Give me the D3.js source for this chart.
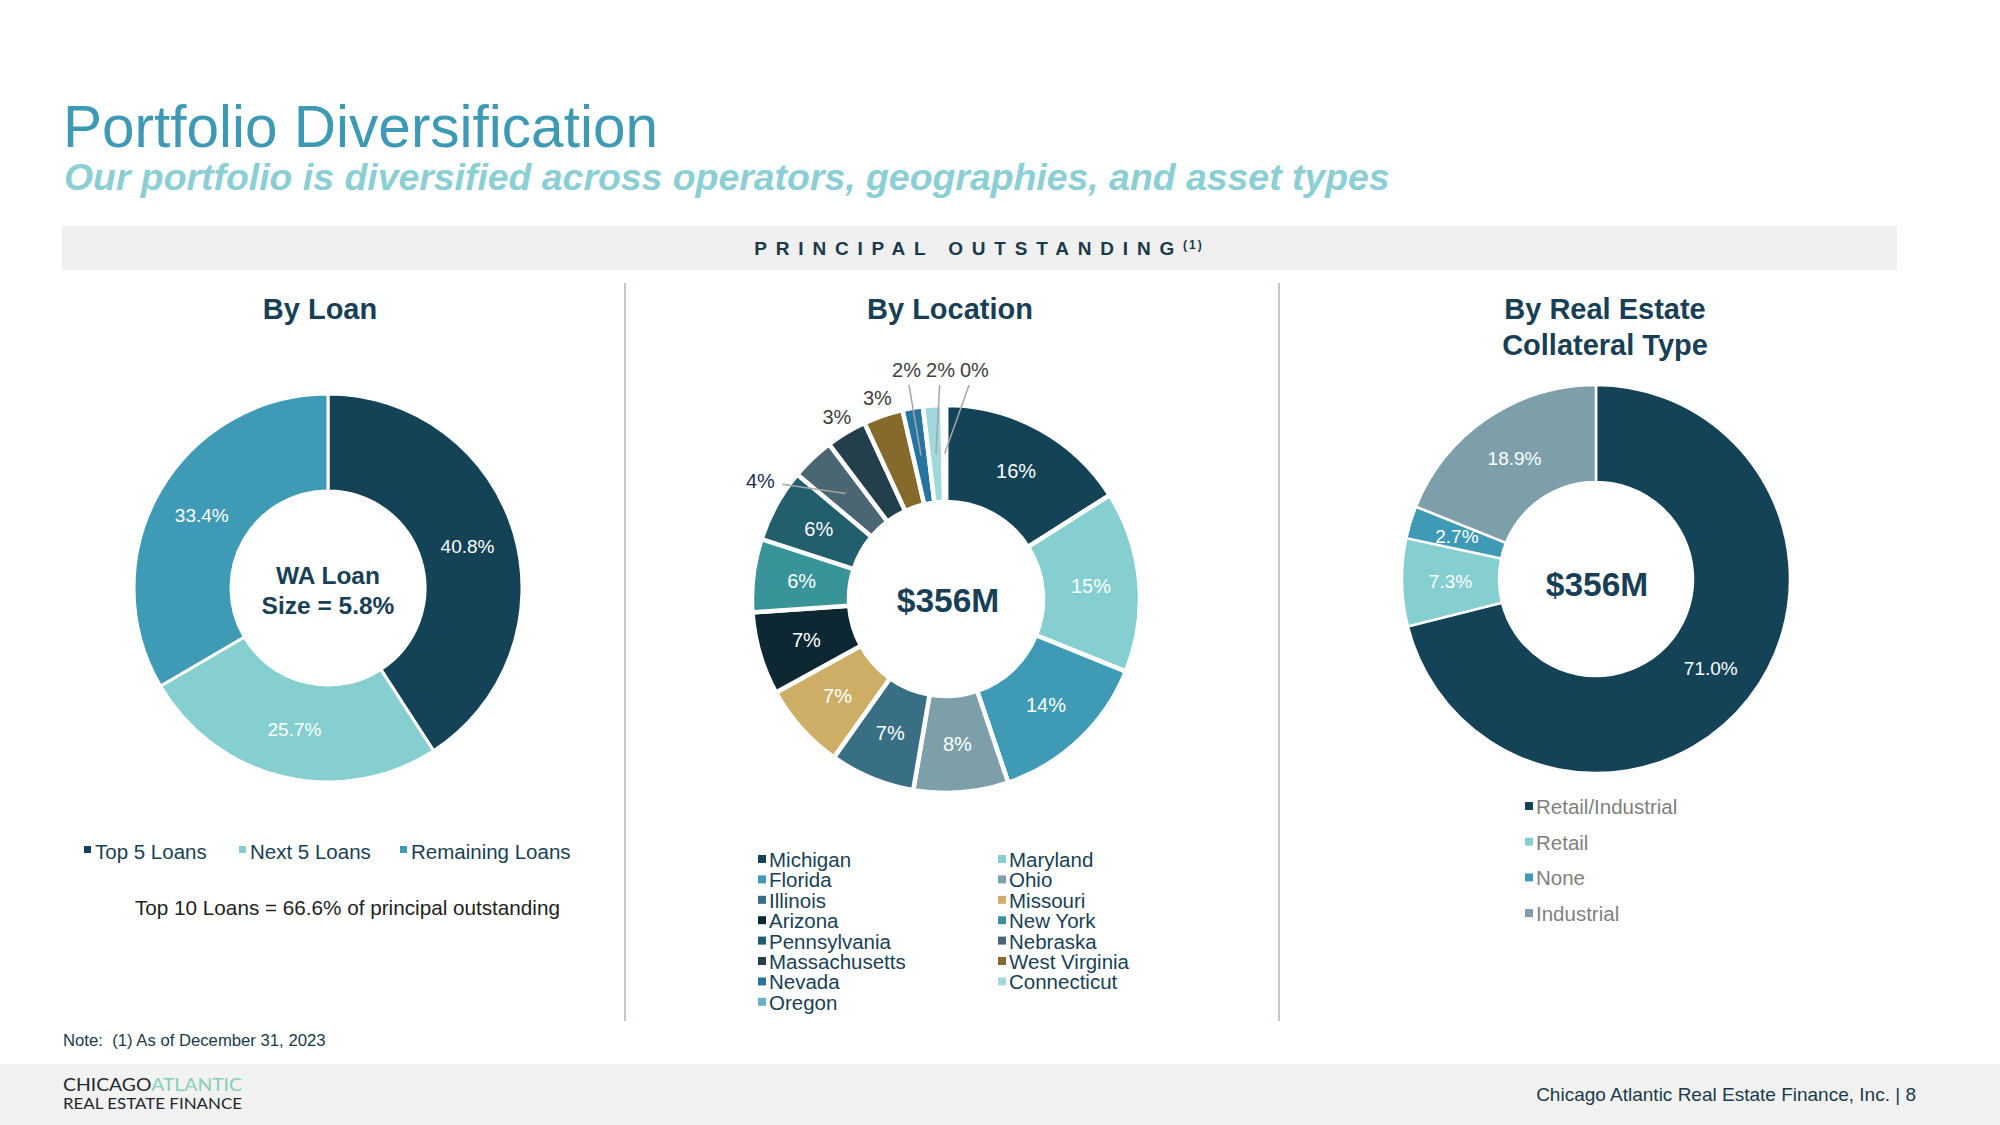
<!DOCTYPE html>
<html>
<head>
<meta charset="utf-8">
<script src="https://cdn.jsdelivr.net/npm/d3@7"></script>
<style>
  body { margin: 0; background: #fff; }
  svg text { font-family: "Liberation Sans", Arial, sans-serif; }
</style>
</head>
<body>
<div id="slide"></div>
<script>
const width = 2000;
const height = 1125;

// By Loan
const loanCategories = ["Top 5 Loans", "Next 5 Loans", "Remaining Loans"];
const loanValues = [40.8, 25.7, 33.4];
const top10Share = 66.6;

// By Location (clockwise from 12 o'clock)
const locationCategories = ["Michigan", "Maryland", "Florida", "Ohio", "Illinois", "Missouri",
  "Arizona", "New York", "Pennsylvania", "Nebraska", "Massachusetts", "West Virginia",
  "Nevada", "Connecticut", "Oregon"];
const locationValues = [16.0, 15.1, 13.7, 7.9, 7.1, 7.2, 6.9, 6.1, 6.1, 3.6, 3.4, 3.3, 1.7, 1.6, 0.3];

// By Real Estate Collateral Type
const collateralCategories = ["Retail/Industrial", "Retail", "None", "Industrial"];
const collateralValues = [71.0, 7.3, 2.7, 18.9];

// couleurs
const loanColors = ["#144357", "#86cfd1", "#3f9bb5"];
const locationColors = ["#144357", "#86cfd1", "#3f9bb5", "#7d9faa", "#386f85", "#ceae67",
  "#0e2833", "#39949a", "#225e6c", "#4a6672", "#233f4c", "#856a2b", "#2575a0", "#a0d8dc", "#6ab2c8"];
const collateralColors = ["#144357", "#86cfd1", "#3f9bb5", "#7d9faa"];

const navy = "#183f55";

const svg = d3.select("#slide")
  .append("svg")
  .attr("width", width)
  .attr("height", height);

// Titre
svg.append("text")
  .attr("x", 63).attr("y", 147)
  .style("font-size", "58.5px")
  .style("fill", "#3e99b4")
  .text("Portfolio Diversification");

svg.append("text")
  .attr("x", 64).attr("y", 190)
  .style("font-size", "37.4px")
  .style("font-weight", "bold")
  .style("font-style", "italic")
  .style("fill", "#8bcfd4")
  .text("Our portfolio is diversified across operators, geographies, and asset types");

// Bandeau
svg.append("rect")
  .attr("x", 62).attr("y", 226)
  .attr("width", 1835).attr("height", 44)
  .style("fill", "#f0f0f0");

const band = svg.append("text")
  .attr("x", 979).attr("y", 255)
  .attr("text-anchor", "middle")
  .style("font-size", "19px")
  .style("font-weight", "bold")
  .style("fill", "#1a3a4a");
band.append("tspan").style("letter-spacing", "8.8px").text("PRINCIPAL OUTSTANDING");
band.append("tspan").attr("dy", -6).style("font-size", "12px").style("letter-spacing", "2px").text("(1)");

// Séparateurs
[625, 1279].forEach(x => {
  svg.append("line")
    .attr("x1", x).attr("x2", x)
    .attr("y1", 283).attr("y2", 1021)
    .style("stroke", "#a9bcc6")
    .style("stroke-width", 1.5);
});

// Sous-titres
function subTitle(x, lines) {
  lines.forEach((t, i) => {
    svg.append("text")
      .attr("x", x).attr("y", 319 + i * 36)
      .attr("text-anchor", "middle")
      .style("font-size", "29px")
      .style("font-weight", "bold")
      .style("fill", navy)
      .text(t);
  });
}
subTitle(320, ["By Loan"]);
subTitle(950, ["By Location"]);
subTitle(1605, ["By Real Estate", "Collateral Type"]);

const outerR = 194;
const innerR = 97;
const arc = d3.arc().innerRadius(innerR).outerRadius(outerR);
const pie = d3.pie().sort(null).value(d => d.value);

function donut(cx, cy, cats, vals, colors, gap) {
  const data = cats.map((c, i) => ({ name: c, value: vals[i], color: colors[i] }));
  const g = svg.append("g").attr("transform", `translate(${cx},${cy})`);
  const arcs = pie(data);
  g.selectAll("path")
    .data(arcs)
    .enter()
    .append("path")
    .attr("d", arc)
    .style("fill", d => d.data.color)
    .style("stroke", "#fff")
    .style("stroke-width", gap);
  return { g, arcs };
}

// ----- By Loan -----
const loan = donut(328, 588, loanCategories, loanValues, loanColors, 3);
loan.g.selectAll(".lbl")
  .data(loan.arcs)
  .enter()
  .append("text")
  .attr("transform", d => `translate(${arc.centroid(d)})`)
  .attr("dy", "0.35em")
  .attr("text-anchor", "middle")
  .style("font-size", "19px")
  .style("fill", "#fff")
  .text(d => d3.format(".1f")(d.data.value) + "%");

["WA Loan", "Size = 5.8%"].forEach((t, i) => {
  loan.g.append("text")
    .attr("y", -4 + i * 30)
    .attr("text-anchor", "middle")
    .style("font-size", "24.5px")
    .style("font-weight", "bold")
    .style("fill", navy)
    .text(t);
});

// légende horizontale
const loanLegendX = [84, 239, 400];
loanCategories.forEach((c, i) => {
  svg.append("rect")
    .attr("x", loanLegendX[i]).attr("y", 846)
    .attr("width", 7).attr("height", 7)
    .style("fill", loanColors[i]);
  svg.append("text")
    .attr("x", loanLegendX[i] + 11).attr("y", 859)
    .style("font-size", "20.5px")
    .style("fill", navy)
    .text(c);
});

svg.append("text")
  .attr("x", 135).attr("y", 915)
  .style("font-size", "20.7px")
  .style("fill", "#222")
  .text("Top 10 Loans = " + d3.format(".1f")(top10Share) + "% of principal outstanding");

// ----- By Location -----
const locCx = 946, locCy = 599;
const loc = donut(locCx, locCy, locationCategories, locationValues, locationColors, 4.5);

const fmt0 = v => d3.format(".0f")(v) + "%";
const inside = loc.arcs.filter(d => d.data.value >= 5);
const outside = loc.arcs.filter(d => d.data.value < 5);

loc.g.selectAll(".in")
  .data(inside)
  .enter()
  .append("text")
  .attr("transform", d => `translate(${arc.centroid(d)})`)
  .attr("dy", "0.35em")
  .attr("text-anchor", "middle")
  .style("font-size", "20px")
  .style("fill", "#fff")
  .text(d => fmt0(d.data.value));

// étiquettes extérieures (petites parts)
const labelNudge = { "Nebraska": -14 };
const mid = d => (d.startAngle + d.endAngle) / 2;
let lastX = -Infinity;
const outLabels = outside.map(d => {
  const a = mid(d) + (labelNudge[d.data.name] || 0) * Math.PI / 180;
  let x, y, lead;
  if (d.data.value < 2.5) {
    x = 230 * Math.sin(a);
    y = -229;
    if (x < lastX + 34) x = lastX + 34;
    lastX = x;
    lead = true;
  } else {
    const r = labelNudge[d.data.name] ? 220 : 212;
    x = r * Math.sin(a);
    y = -r * Math.cos(a);
    lead = !!labelNudge[d.data.name];
  }
  return { d, x, y, lead };
});

outLabels.forEach(o => {
  if (o.lead) {
    const [sx, sy] = arc.centroid(o.d);
    const vx = sx - o.x, vy = sy - o.y;
    const len = Math.hypot(vx, vy);
    const ux = vx / len, uy = vy / len;
    const t = Math.min(22 / Math.abs(ux || 1e-6), 15 / Math.abs(uy || 1e-6));
    loc.g.append("line")
      .attr("x1", sx).attr("y1", sy)
      .attr("x2", o.x + ux * t).attr("y2", o.y + uy * t)
      .style("stroke", "#a6a6a6")
      .style("stroke-width", 1.5);
  }
  loc.g.append("text")
    .attr("x", o.x).attr("y", o.y)
    .attr("dy", "0.35em")
    .attr("text-anchor", "middle")
    .style("font-size", "20px")
    .style("fill", o.d.data.name === "Nebraska" ? "#1f2d5a" : "#404040")
    .text(fmt0(o.d.data.value));
});

loc.g.append("text")
  .attr("y", 13)
  .attr("x", 2)
  .attr("text-anchor", "middle")
  .style("font-size", "33.5px")
  .style("font-weight", "bold")
  .style("fill", navy)
  .text("$356M");

// légende deux colonnes (ligne par ligne)
locationCategories.forEach((c, i) => {
  const col = i % 2, row = Math.floor(i / 2);
  const x = col ? 998 : 758;
  const y = 867 + row * 20.4;
  svg.append("rect")
    .attr("x", x).attr("y", y - 12)
    .attr("width", 8).attr("height", 8)
    .style("fill", locationColors[i]);
  svg.append("text")
    .attr("x", x + 11).attr("y", y)
    .style("font-size", "20.5px")
    .style("fill", navy)
    .text(c);
});

// ----- By Real Estate Collateral Type -----
const col = donut(1596, 579, collateralCategories, collateralValues, collateralColors, 2.5);
col.g.selectAll(".lbl")
  .data(col.arcs)
  .enter()
  .append("text")
  .attr("transform", d => `translate(${arc.centroid(d)})`)
  .attr("dy", "0.35em")
  .attr("text-anchor", "middle")
  .style("font-size", "19px")
  .style("fill", "#fff")
  .text(d => d3.format(".1f")(d.data.value) + "%");

col.g.append("text")
  .attr("y", 17)
  .attr("x", 1)
  .attr("text-anchor", "middle")
  .style("font-size", "33.5px")
  .style("font-weight", "bold")
  .style("fill", navy)
  .text("$356M");

collateralCategories.forEach((c, i) => {
  const y = 814 + i * 35.7;
  svg.append("rect")
    .attr("x", 1525).attr("y", y - 12)
    .attr("width", 8).attr("height", 8)
    .style("fill", collateralColors[i]);
  svg.append("text")
    .attr("x", 1536).attr("y", y)
    .style("font-size", "20.5px")
    .style("fill", "#7f7f7f")
    .text(c);
});

// Note
svg.append("text")
  .attr("x", 63).attr("y", 1046)
  .attr("xml:space", "preserve")
  .style("font-size", "16.7px")
  .style("fill", "#1a3a4a")
  .text("Note:  (1) As of December 31, 2023");

// Pied de page
svg.append("rect")
  .attr("x", 0).attr("y", 1064)
  .attr("width", width).attr("height", height - 1064)
  .style("fill", "#f2f2f2");

const logo = svg.append("text")
  .attr("x", 63).attr("y", 1091)
  .attr("textLength", 179).attr("lengthAdjust", "spacingAndGlyphs")
  .style("font-family", "Lato, 'Open Sans', sans-serif")
  .style("font-weight", 400)
  .style("font-size", "18px");
logo.append("tspan").style("fill", "#23272f").text("CHICAGO");
logo.append("tspan").style("fill", "#86d0b6").text("ATLANTIC");

svg.append("text")
  .attr("x", 63).attr("y", 1109)
  .attr("textLength", 179).attr("lengthAdjust", "spacingAndGlyphs")
  .style("font-family", "Lato, 'Open Sans', sans-serif")
  .style("font-weight", 400)
  .style("font-size", "16px")
  .style("fill", "#23272f")
  .text("REAL ESTATE FINANCE");

svg.append("text")
  .attr("x", 1916).attr("y", 1101)
  .attr("text-anchor", "end")
  .style("font-size", "19px")
  .style("fill", "#1a3a4a")
  .text("Chicago Atlantic Real Estate Finance, Inc. | 8");
</script>
</body>
</html>
